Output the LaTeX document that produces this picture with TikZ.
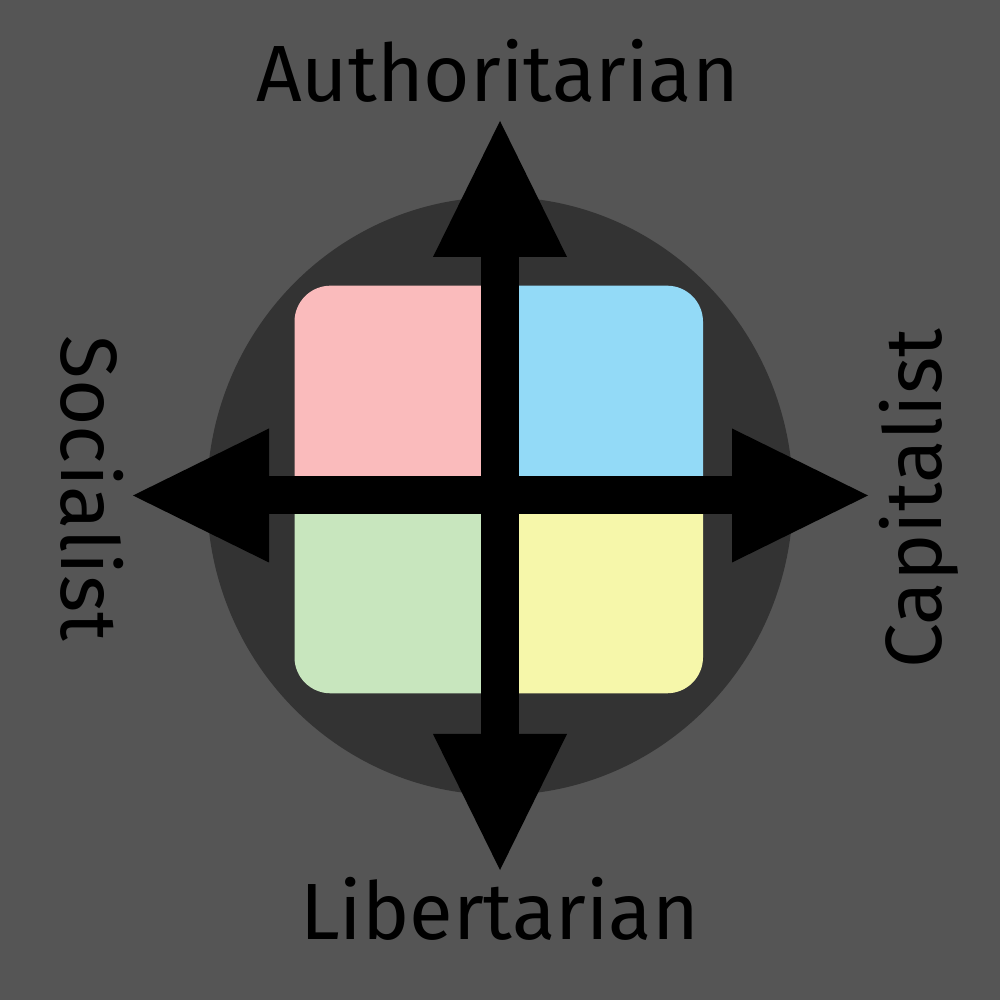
\documentclass[tikz,border=0pt]{standalone}
\usepackage{fontspec}
\setmainfont{Fira Sans}
\usepackage{tikz}
\usetikzlibrary{arrows.meta, positioning}

\definecolor{bgGray}{HTML}{555555}
\definecolor{discGray}{HTML}{333333}
\definecolor{authLeft}{HTML}{FABBBC}
\definecolor{authRight}{HTML}{93DAF7}
\definecolor{libLeft}{HTML}{C8E6BE}
\definecolor{libRight}{HTML}{F6F7AA}

\tikzset{
  axis/.style={line width=0.38cm, {Triangle[length=1.36cm,width=1.34cm,line width=0pt]}-{Triangle[length=1.36cm,width=1.34cm,line width=0pt]}},
  axislabel/.style={font=\fontsize{22.7}{23}\selectfont, text=black, anchor=base, inner sep=0pt}
}

\begin{document}
\begin{tikzpicture}
				% Background and the dark disc
				\useasboundingbox (-5,-5) rectangle (5,5);
				\fill[bgGray] (-5,-5) rectangle (5,5);
				\fill[discGray] (0,0.04) ellipse (2.93 and 2.99);
				
				% Four coloured quadrants in a rounded square
				\begin{scope}
					\clip[rounded corners=0.36cm] (-2.055,-1.933) rectangle (2.03,2.143);
					\fill[authLeft] (-2.1,0.045) rectangle (0,2.2);
					\fill[authRight] (0,0.045) rectangle (2.1,2.2);
					\fill[libLeft] (-2.1,-2) rectangle (0,0.045);
					\fill[libRight] (0,-2) rectangle (2.1,0.045);
				\end{scope}
				
				% End points of the two axes
				\coordinate (north) at (0,3.79);
				\coordinate (south) at (0,-3.70);
				\coordinate (west) at (-3.67,0.045);
				\coordinate (east) at (3.68,0.045);
				
				% Draw the double arrows
				\draw[axis] (south) -- (north);
				\draw[axis] (west) -- (east);
				
				% Place the labels
				\node[axislabel] (auth) at (-0.025,3.983) {Authoritarian};
				\node[axislabel] (lib) at (-0.005,-4.39) {Libertarian};
				\node[axislabel, rotate=-90] (soc) at (-4.38,0.115) {Socialist};
				\node[axislabel, rotate=90] (cap) at (4.417,0.01) {Capitalist};
			\end{tikzpicture}
\end{document}
